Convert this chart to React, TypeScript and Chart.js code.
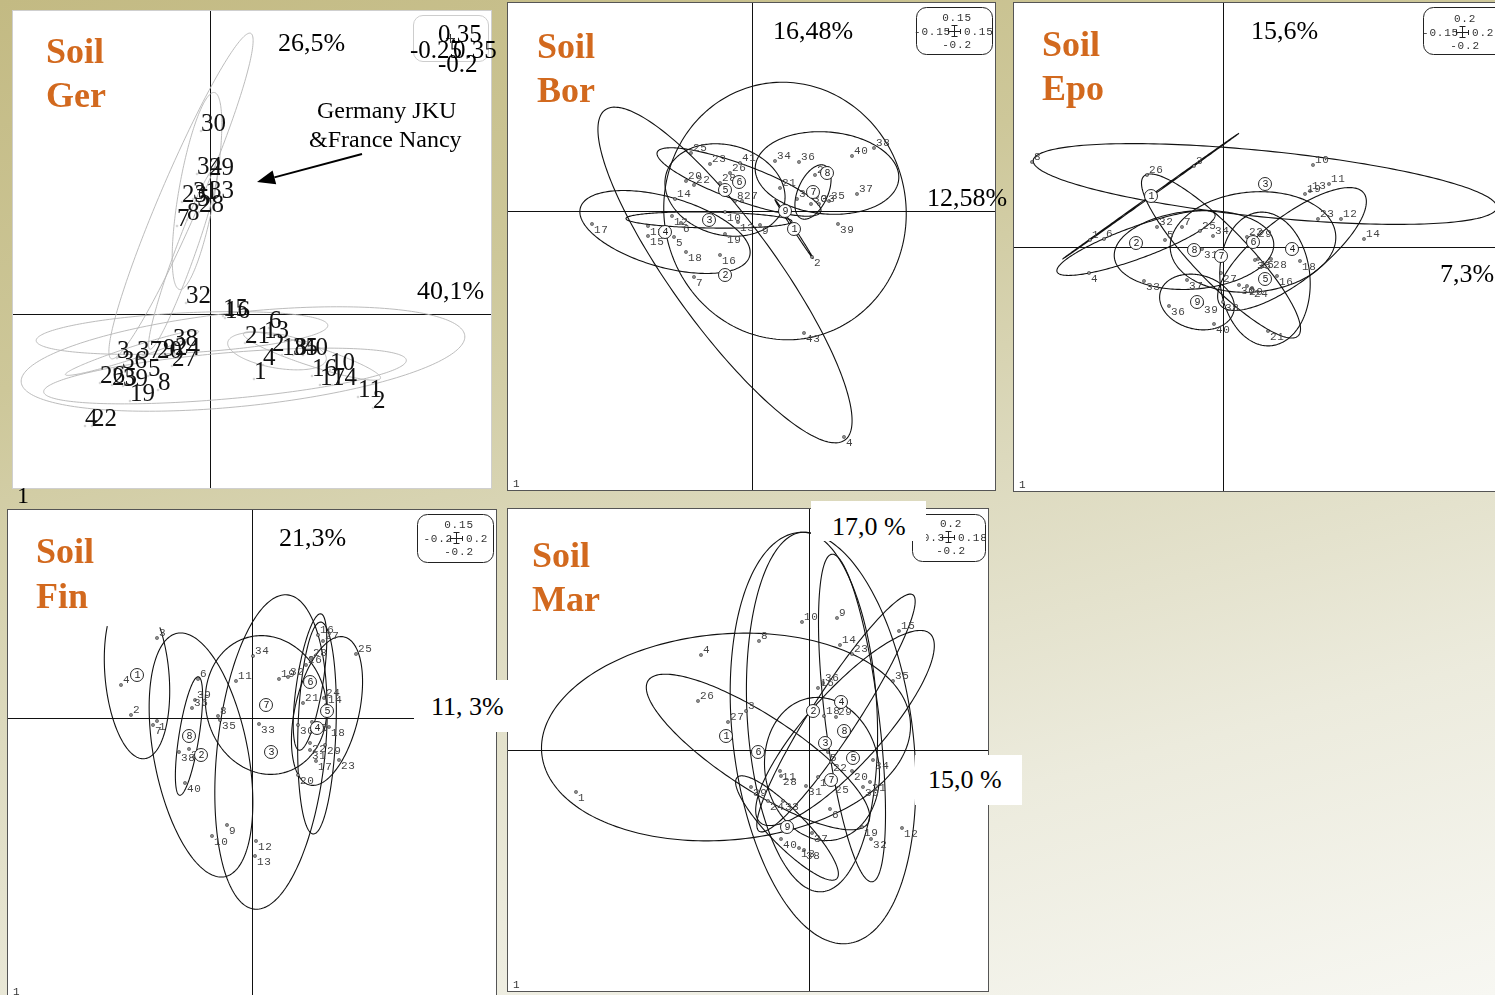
import { useEffect, useRef } from "react";
import { Chart, registerables } from "chart.js";

Chart.register(...registerables);

const SERIF = '"Liberation Serif", "Times New Roman", Times, serif';
const MONO = '"Liberation Mono", "Courier New", monospace';
const ORANGE = "#d2691e";
const UNIT = 100; // pixels per ordination unit

/* ---------------- Soil Ger (Germany JKU & France Nancy) ---------------- */
const gerPointLabels = ["30", "34", "29", "23", "31", "33", "5", "28", "7", "8", "32", "15", "16", "6", "21", "13", "2", "18", "35", "40", "4", "1", "10", "16", "17", "14", "11", "2", "3", "36", "37", "20", "9", "38", "24", "27", "5", "26", "25", "39", "19", "8", "22", "4"];
const gerPointX = [-0.09, -0.13, -0.01, -0.28, -0.17, -0.01, -0.13, -0.11, -0.33, -0.23, -0.24, 0.13, 0.15, 0.59, 0.35, 0.54, 0.62, 0.72, 0.83, 0.93, 0.53, 0.44, 1.2, 1.02, 1.1, 1.22, 1.48, 1.63, -0.93, -0.88, -0.73, -0.53, -0.47, -0.37, -0.35, -0.38, -0.62, -1.1, -0.98, -0.87, -0.8, -0.52, -1.18, -1.25];
const gerPointY = [1.83, 1.4, 1.39, 1.12, 1.15, 1.16, 1.08, 1.02, 0.88, 0.94, 0.11, -0.02, -0.04, -0.14, -0.29, -0.24, -0.37, -0.41, -0.41, -0.41, -0.51, -0.65, -0.56, -0.62, -0.71, -0.71, -0.83, -0.94, -0.44, -0.54, -0.44, -0.44, -0.42, -0.32, -0.41, -0.52, -0.62, -0.69, -0.71, -0.72, -0.87, -0.76, -1.12, -1.12];
const gerEllX = [-0.29, -0.13, -0.27, 0.33, 0.15, -0.28, -0.78, 1.02, 0.67];
const gerEllY = [1.18, 1.23, 0.56, -0.45, -0.62, -0.19, -0.39, -0.42, -0.37];
const gerEllA = [1.77, 1.0, 0.97, 2.23, 1.82, 1.46, 0.7, 0.72, 0.5];
const gerEllB = [0.2, 0.18, 0.1, 0.47, 0.23, 0.2, 0.06, 0.1, 0.17];
const gerEllAngle = [66.8, 80, 70, 6, 5, 3, 18, -18, -10];
const gerArrow = [1.52, 1.6, 0.47, 1.32];
const gerAxisPct = ["26,5%", "40,1%"];
const gerScaleTicks = ["0.35", "-0.25", "0.35", "-0.2"];
const gerNote = ["Germany JKU", "&France Nancy"];

/* ---------------- Soil Bor ---------------- */
const borPointLabels = ["25", "23", "41", "26", "20", "22", "28", "14", "8", "27", "21", "31", "35", "30", "33", "29", "34", "36", "40", "38", "37", "39", "43", "4", "17", "15", "11", "12", "6", "5", "18", "16", "7", "10", "19", "13", "9", "2"];
const borPointX = [-0.61, -0.42, -0.12, -0.22, -0.66, -0.58, -0.32, -0.77, -0.17, -0.1, 0.28, 0.45, 0.77, 0.59, 0.67, 0.63, 0.23, 0.47, 1.0, 1.22, 1.05, 0.86, 0.52, 0.92, -1.6, -1.04, -1.04, -0.8, -0.71, -0.78, -0.66, -0.32, -0.58, -0.27, -0.27, -0.14, 0.08, 0.6];
const borPointY = [0.58, 0.47, 0.48, 0.38, 0.3, 0.26, 0.28, 0.12, 0.1, 0.1, 0.23, 0.12, 0.1, 0.07, 0.07, 0.36, 0.5, 0.49, 0.55, 0.63, 0.17, -0.13, -1.22, -2.26, -0.13, -0.25, -0.15, -0.05, -0.12, -0.26, -0.41, -0.44, -0.66, -0.01, -0.23, -0.11, -0.14, -0.46];
const borGroupLabels = ["1", "2", "3", "4", "5", "6", "7", "8", "9"];
const borGroupX = [0.42, -0.27, -0.43, -0.87, -0.27, -0.13, 0.61, 0.75, 0.33];
const borGroupY = [-0.18, -0.64, -0.09, -0.21, 0.21, 0.29, 0.19, 0.38, 0.0];
const borEllA = [0.35, 2.04, 0.83, 0.88, 0.61, 0.87, 0.29, 0.72, 1.21];
const borEllB = [0.01, 0.52, 0.08, 0.35, 0.45, 0.18, 0.15, 0.41, 1.29];
const borEllAngle = [-57, -54, -1, -16, -15, -20, 66, -5, 10];
const borAxisPct = ["16,48%", "12,58%"];
const borScaleTicks = ["0.15", "-0.15", "0.15", "-0.2"];

/* ---------------- Soil Epo ---------------- */
const epoPointLabels = ["8", "3", "26", "10", "11", "19", "13", "23", "12", "14", "32", "7", "25", "34", "5", "1", "6", "22", "29", "4", "33", "37", "36", "39", "40", "31", "27", "30", "20", "24", "35", "15", "28", "18", "16", "38", "21"];
const epoPointX = [-1.91, -0.29, -0.76, 0.9, 1.06, 0.82, 0.87, 0.95, 1.18, 1.41, -0.66, -0.41, -0.23, -0.1, -0.58, -1.33, -1.19, 0.24, 0.33, -1.34, -0.79, -0.36, -0.54, -0.21, -0.09, -0.21, -0.02, 0.16, 0.24, 0.29, 0.32, 0.35, 0.48, 0.77, 0.54, 0.0, 0.45];
const epoPointY = [0.85, 0.81, 0.72, 0.82, 0.63, 0.53, 0.56, 0.28, 0.28, 0.08, 0.2, 0.2, 0.16, 0.11, 0.07, 0.07, 0.08, 0.1, 0.08, -0.26, -0.34, -0.33, -0.59, -0.57, -0.77, -0.02, -0.26, -0.38, -0.39, -0.41, -0.13, -0.12, -0.12, -0.14, -0.29, -0.55, -0.84];
const epoGroupLabels = ["1", "2", "3", "4", "5", "6", "7", "8", "9"];
const epoGroupX = [-0.72, -0.87, 0.42, 0.69, 0.42, 0.3, -0.02, -0.29, -0.26];
const epoGroupY = [0.51, 0.04, 0.63, -0.02, -0.32, 0.05, -0.09, -0.03, -0.55];
const epoEllA = [1.08, 0.84, 2.33, 0.91, 0.67, 0.83, 1.11, 0.8, 0.38];
const epoEllB = [0.006, 0.16, 0.33, 0.32, 0.45, 0.5, 0.27, 0.39, 0.27];
const epoEllAngle = [35.5, 20, -5.8, 38, 95, 5, -46, 5, -15];
const epoAxisPct = ["15,6%", "7,3%"];
const epoScaleTicks = ["0.2", "-0.15", "0.2", "-0.2"];

/* ---------------- Soil Fin ---------------- */
const finPointLabels = ["3", "4", "2", "1", "7", "6", "39", "36", "8", "35", "38", "37", "40", "9", "10", "12", "13", "34", "11", "33", "19", "32", "16", "27", "28", "26", "21", "24", "14", "30", "18", "22", "31", "29", "17", "23", "20", "25", "15"];
const finPointX = [-0.95, -1.31, -1.21, -0.95, -0.99, -0.54, -0.57, -0.6, -0.34, -0.32, -0.73, -0.63, -0.67, -0.25, -0.4, 0.04, 0.03, 0.01, -0.16, 0.07, 0.27, 0.36, 0.66, 0.71, 0.59, 0.54, 0.51, 0.72, 0.74, 0.46, 0.77, 0.58, 0.58, 0.73, 0.64, 0.87, 0.46, 1.04, 0.6];
const finPointY = [0.8, 0.33, 0.03, -0.03, -0.07, 0.39, 0.18, 0.1, 0.02, -0.02, -0.34, -0.31, -0.65, -1.07, -1.18, -1.23, -1.38, 0.62, 0.37, -0.06, 0.39, 0.41, 0.83, 0.77, 0.6, 0.53, 0.15, 0.2, 0.13, -0.07, -0.09, -0.25, -0.32, -0.27, -0.43, -0.42, -0.57, 0.64, -0.04];
const finGroupLabels = ["1", "2", "3", "4", "5", "6", "7", "8"];
const finGroupX = [-1.15, -0.51, 0.19, 0.65, 0.75, 0.58, 0.14, -0.63];
const finGroupY = [0.43, -0.37, -0.34, -0.1, 0.07, 0.36, 0.13, -0.18];
const finEllA = [0.84, 1.24, 1.58, 1.06, 0.76, 0.69, 0.7, 0.6];
const finEllB = [0.32, 0.47, 0.54, 0.19, 0.32, 0.13, 0.6, 0.1];
const finEllAngle = [95, 101, 84, 88, 77, 81, 105, 81];
const finEllClipTop: (number | null)[] = [0.92, null, null, null, null, null, null, null];
const finAxisPct = ["21,3%", "11, 3%"];
const finScaleTicks = ["0.15", "-0.2", "0.2", "-0.2"];

/* ---------------- Soil Mar ---------------- */
const marPointLabels = ["10", "9", "8", "4", "15", "14", "23", "35", "36", "16", "26", "3", "27", "18", "29", "5", "22", "34", "11", "28", "20", "17", "25", "31", "30", "21", "1", "39", "24", "33", "6", "19", "12", "32", "37", "40", "13", "38"];
const marPointX = [-0.07, 0.28, -0.5, -1.08, 0.9, 0.31, 0.43, 0.84, 0.14, 0.09, -1.11, -0.63, -0.81, 0.15, 0.27, 0.19, 0.22, 0.64, -0.29, -0.28, 0.43, 0.09, 0.24, -0.03, 0.54, 0.61, -2.33, -0.58, -0.41, -0.26, 0.21, 0.53, 0.93, 0.62, 0.03, -0.28, -0.1, -0.05];
const marPointY = [1.28, 1.32, 1.09, 0.95, 1.19, 1.05, 0.96, 0.69, 0.67, 0.62, 0.49, 0.39, 0.28, 0.34, 0.33, -0.02, -0.12, -0.1, -0.21, -0.26, -0.21, -0.27, -0.34, -0.36, -0.37, -0.32, -0.42, -0.37, -0.51, -0.51, -0.59, -0.77, -0.78, -0.89, -0.83, -0.89, -0.98, -1.0];
const marGroupLabels = ["1", "2", "3", "4", "5", "6", "7", "8", "9"];
const marGroupX = [-0.83, 0.04, 0.16, 0.32, 0.44, -0.51, 0.22, 0.35, -0.22];
const marGroupY = [0.14, 0.39, 0.07, 0.48, -0.08, -0.02, -0.3, 0.19, -0.77];
const marEllX = [-0.83, -0.51, 0.14, 0.03, 0.43, 0.27, 0.36, 0.13, -0.22];
const marEllY = [0.13, -0.02, 0.12, 0.38, 0.32, 0.37, 0.22, -0.19, -0.78];
const marEllA = [1.85, 1.31, 2.07, 1.8, 1.65, 1.41, 1.27, 0.72, 0.71];
const marEllB = [1.03, 0.37, 0.9, 0.65, 0.27, 0.23, 0.37, 0.57, 0.18];
const marEllAngle = [5, -33, 97, 93, 97, 57, 48, 100, -45.5];
const marAxisPct = ["17,0 %", "15,0 %"];
const marScaleTicks = ["0.2", "-0.3", "0.18", "-0.2"];

/* ---------------- panel definitions ---------------- */
type Box = { left: number; top: number; width: number; height: number; ox: number; oy: number };
type Panel = {
  id: string;
  box: Box;
  style: "serif" | "mono";
  border: string;
  labels: string[];
  xs: number[];
  ys: number[];
  groupLabels?: string[];
  groupX?: number[];
  groupY?: number[];
  ellX: number[];
  ellY: number[];
  ellA: number[];
  ellB: number[];
  ellAngle: number[];
  ellClipTop?: (number | null)[];
  ticks?: string[];
  tickBox?: number[];
  tickCross?: number[];
  arrow?: number[];
};

const panels: Panel[] = [
  {
    id: "ger",
    box: { left: 12, top: 10, width: 480, height: 479, ox: 198, oy: 304 },
    style: "serif",
    border: "#cfcfcf",
    labels: gerPointLabels,
    xs: gerPointX,
    ys: gerPointY,
    ellX: gerEllX,
    ellY: gerEllY,
    ellA: gerEllA,
    ellB: gerEllB,
    ellAngle: gerEllAngle,
    arrow: gerArrow,
  },
  {
    id: "bor",
    box: { left: 507, top: 2, width: 489, height: 489, ox: 245, oy: 209 },
    style: "mono",
    border: "#555",
    labels: borPointLabels,
    xs: borPointX,
    ys: borPointY,
    groupLabels: borGroupLabels,
    groupX: borGroupX,
    groupY: borGroupY,
    ellX: borGroupX,
    ellY: borGroupY,
    ellA: borEllA,
    ellB: borEllB,
    ellAngle: borEllAngle,
    ticks: borScaleTicks,
    tickBox: [409, 5, 76, 47],
    tickCross: [447, 29],
  },
  {
    id: "epo",
    box: { left: 1013, top: 2, width: 487, height: 490, ox: 210, oy: 245 },
    style: "mono",
    border: "#555",
    labels: epoPointLabels,
    xs: epoPointX,
    ys: epoPointY,
    groupLabels: epoGroupLabels,
    groupX: epoGroupX,
    groupY: epoGroupY,
    ellX: epoGroupX,
    ellY: epoGroupY,
    ellA: epoEllA,
    ellB: epoEllB,
    ellAngle: epoEllAngle,
    ticks: epoScaleTicks,
    tickBox: [410, 5, 82, 47],
    tickCross: [449, 30],
  },
  {
    id: "fin",
    box: { left: 7, top: 509, width: 490, height: 490, ox: 245, oy: 209 },
    style: "mono",
    border: "#555",
    labels: finPointLabels,
    xs: finPointX,
    ys: finPointY,
    groupLabels: finGroupLabels,
    groupX: finGroupX,
    groupY: finGroupY,
    ellX: finGroupX,
    ellY: finGroupY,
    ellA: finEllA,
    ellB: finEllB,
    ellAngle: finEllAngle,
    ellClipTop: finEllClipTop,
    ticks: finScaleTicks,
    tickBox: [410, 5, 76, 48],
    tickCross: [449, 29],
  },
  {
    id: "mar",
    box: { left: 507, top: 508, width: 482, height: 484, ox: 302, oy: 242 },
    style: "mono",
    border: "#555",
    labels: marPointLabels,
    xs: marPointX,
    ys: marPointY,
    groupLabels: marGroupLabels,
    groupX: marGroupX,
    groupY: marGroupY,
    ellX: marEllX,
    ellY: marEllY,
    ellA: marEllA,
    ellB: marEllB,
    ellAngle: marEllAngle,
    ticks: marScaleTicks,
    tickBox: [405, 6, 73, 47],
    tickCross: [441, 29],
  },
];

/* ---------------- drawing helpers ---------------- */
function drawEllipse(ctx: CanvasRenderingContext2D, xs: any, ys: any, cx: number, cy: number, a: number, b: number, angDeg: number, clipTop: number | null) {
  const phi = (angDeg * Math.PI) / 180;
  const c = Math.cos(phi);
  const s = Math.sin(phi);
  const n = 220;
  ctx.beginPath();
  let pen = false;
  for (let i = 0; i <= n; i++) {
    const t = (i / n) * Math.PI * 2;
    const u = a * Math.cos(t);
    const v = b * Math.sin(t);
    const dx = cx + u * c - v * s;
    const dy = cy + u * s + v * c;
    if (clipTop !== null && dy > clipTop) {
      pen = false;
      continue;
    }
    const px = xs.getPixelForValue(dx);
    const py = ys.getPixelForValue(dy);
    if (!pen) {
      ctx.moveTo(px, py);
      pen = true;
    } else ctx.lineTo(px, py);
  }
  ctx.stroke();
}

function roundedRect(ctx: CanvasRenderingContext2D, x: number, y: number, w: number, h: number, r: number) {
  ctx.beginPath();
  ctx.moveTo(x + r, y);
  ctx.lineTo(x + w - r, y);
  ctx.arcTo(x + w, y, x + w, y + r, r);
  ctx.lineTo(x + w, y + h - r);
  ctx.arcTo(x + w, y + h, x + w - r, y + h, r);
  ctx.lineTo(x + r, y + h);
  ctx.arcTo(x, y + h, x, y + h - r, r);
  ctx.lineTo(x, y + r);
  ctx.arcTo(x, y, x + r, y, r);
  ctx.closePath();
}

function ordinationPlugin(p: Panel) {
  return {
    id: "ordination-" + p.id,
    beforeDraw(chart: any) {
      const ctx = chart.ctx as CanvasRenderingContext2D;
      ctx.save();
      ctx.fillStyle = "#ffffff";
      ctx.fillRect(0, 0, chart.width, chart.height);
      ctx.restore();
    },
    beforeDatasetsDraw(chart: any) {
      const ctx = chart.ctx as CanvasRenderingContext2D;
      const xs = chart.scales.x;
      const ys = chart.scales.y;
      const x0 = Math.round(xs.getPixelForValue(0)) + 0.5;
      const y0 = Math.round(ys.getPixelForValue(0)) + 0.5;
      ctx.save();
      ctx.strokeStyle = "#111";
      ctx.lineWidth = 1;
      ctx.beginPath();
      ctx.moveTo(x0, 0);
      ctx.lineTo(x0, chart.height);
      ctx.moveTo(0, y0);
      ctx.lineTo(chart.width, y0);
      ctx.stroke();

      ctx.strokeStyle = p.style === "serif" ? "#b4b4b4" : "#111";
      ctx.lineWidth = p.style === "serif" ? 0.9 : 1.1;
      p.ellX.forEach((cx, i) => {
        const clip = p.ellClipTop ? p.ellClipTop[i] : null;
        drawEllipse(ctx, xs, ys, cx, p.ellY[i], p.ellA[i], p.ellB[i], p.ellAngle[i], clip);
      });
      ctx.restore();
    },
    afterDatasetsDraw(chart: any) {
      const ctx = chart.ctx as CanvasRenderingContext2D;
      const xs = chart.scales.x;
      const ys = chart.scales.y;
      const W = chart.width;
      const H = chart.height;
      ctx.save();
      ctx.textAlign = "left";
      ctx.textBaseline = "alphabetic";

      if (p.style === "serif") {
        ctx.font = `25px ${SERIF}`;
        ctx.fillStyle = "#111";
        p.labels.forEach((lab, i) => {
          ctx.fillText(lab, xs.getPixelForValue(p.xs[i]), ys.getPixelForValue(p.ys[i]));
        });
        if (p.arrow) {
          const [ax0, ay0, ax1, ay1] = p.arrow;
          const x0 = xs.getPixelForValue(ax0);
          const y0 = ys.getPixelForValue(ay0);
          const x1 = xs.getPixelForValue(ax1);
          const y1 = ys.getPixelForValue(ay1);
          const ang = Math.atan2(y1 - y0, x1 - x0);
          const hl = 18;
          const hw = 7;
          const bx = x1 - hl * Math.cos(ang);
          const by = y1 - hl * Math.sin(ang);
          ctx.strokeStyle = "#000";
          ctx.fillStyle = "#000";
          ctx.lineWidth = 2;
          ctx.beginPath();
          ctx.moveTo(x0, y0);
          ctx.lineTo(bx, by);
          ctx.stroke();
          ctx.beginPath();
          ctx.moveTo(x1, y1);
          ctx.lineTo(bx + hw * Math.sin(ang), by - hw * Math.cos(ang));
          ctx.lineTo(bx - hw * Math.sin(ang), by + hw * Math.cos(ang));
          ctx.closePath();
          ctx.fill();
        }
      } else {
        ctx.font = `11px ${MONO}`;
        (ctx as any).letterSpacing = "0.6px";
        ctx.fillStyle = "#444";
        p.labels.forEach((lab, i) => {
          const px = xs.getPixelForValue(p.xs[i]);
          const py = ys.getPixelForValue(p.ys[i]);
          ctx.fillText(lab, px + 2, p.ys[i] >= 0 ? py - 2 : py + 9);
        });

        // group means
        (ctx as any).letterSpacing = "0px";
        ctx.font = `10px ${MONO}`;
        ctx.textAlign = "center";
        ctx.textBaseline = "middle";
        (p.groupLabels || []).forEach((g, i) => {
          const px = xs.getPixelForValue(p.groupX![i]);
          const py = ys.getPixelForValue(p.groupY![i]);
          ctx.beginPath();
          ctx.arc(px, py, 6.5, 0, Math.PI * 2);
          ctx.fillStyle = "#fff";
          ctx.fill();
          ctx.strokeStyle = "#111";
          ctx.lineWidth = 0.9;
          ctx.stroke();
          ctx.fillStyle = "#222";
          ctx.fillText(g, px + 0.5, py + 0.5);
        });

        // scale key
        if (p.ticks && p.tickBox && p.tickCross) {
          const [bx, by, bw, bh] = p.tickBox;
          const [cx, cy] = p.tickCross;
          ctx.strokeStyle = "#222";
          ctx.lineWidth = 1;
          roundedRect(ctx, bx + 0.5, by + 0.5, bw, bh, 10);
          ctx.stroke();
          ctx.beginPath();
          ctx.moveTo(cx + 0.5, cy - 6);
          ctx.lineTo(cx + 0.5, cy + 6);
          ctx.moveTo(cx - 2.5, cy - 5.5);
          ctx.lineTo(cx + 3.5, cy - 5.5);
          ctx.moveTo(cx - 2.5, cy + 5.5);
          ctx.lineTo(cx + 3.5, cy + 5.5);
          ctx.moveTo(cx - 6, cy + 0.5);
          ctx.lineTo(cx + 7, cy + 0.5);
          ctx.moveTo(cx - 5.5, cy - 2);
          ctx.lineTo(cx - 5.5, cy + 3);
          ctx.moveTo(cx + 6.5, cy - 2);
          ctx.lineTo(cx + 6.5, cy + 3);
          ctx.stroke();
          ctx.font = `11px ${MONO}`;
          (ctx as any).letterSpacing = "0.8px";
          ctx.fillStyle = "#333";
          ctx.textBaseline = "middle";
          ctx.textAlign = "center";
          ctx.fillText(p.ticks[0], cx + 3, cy - 13);
          ctx.fillText(p.ticks[3], cx + 3, cy + 14);
          ctx.textAlign = "right";
          ctx.fillText(p.ticks[1], cx - 3, cy + 1);
          ctx.textAlign = "left";
          ctx.fillText(p.ticks[2], cx + 10, cy + 1);
        }

        // corner index
        (ctx as any).letterSpacing = "0px";
        ctx.font = `11px ${MONO}`;
        ctx.textAlign = "left";
        ctx.textBaseline = "alphabetic";
        ctx.fillStyle = "#333";
        ctx.fillText("1", 6, Math.min(H, 490) - 4);
      }

      ctx.strokeStyle = p.border;
      ctx.lineWidth = 1;
      ctx.strokeRect(0.5, 0.5, W - 1, H - 1);
      ctx.restore();
    },
  };
}

function OrdinationChart({ panel }: { panel: Panel }) {
  const ref = useRef<HTMLCanvasElement>(null);
  useEffect(() => {
    const canvas = ref.current;
    if (!canvas) return;
    const { width, height, ox, oy } = panel.box;
    const serif = panel.style === "serif";
    const chart = new Chart(canvas, {
      type: "scatter",
      data: {
        datasets: [
          {
            data: panel.xs.map((x, i) => ({ x, y: panel.ys[i] })),
            pointStyle: "rect",
            pointRadius: serif ? 1 : 1.6,
            pointBorderWidth: 0.8,
            pointBackgroundColor: "#fff",
            pointBorderColor: serif ? "#c4c4c4" : "#111",
          },
        ],
      },
      options: {
        responsive: false,
        animation: false,
        events: [],
        layout: { padding: 0, autoPadding: false },
        plugins: { legend: { display: false }, tooltip: { enabled: false }, title: { display: false } },
        scales: {
          x: { type: "linear", display: false, min: -ox / UNIT, max: (width - ox) / UNIT },
          y: { type: "linear", display: false, min: -(height - oy) / UNIT, max: oy / UNIT },
        },
      } as any,
      plugins: [ordinationPlugin(panel)],
    });
    return () => chart.destroy();
  }, [panel]);
  const b = panel.box;
  return (
    <canvas
      ref={ref}
      width={b.width}
      height={b.height}
      style={{ position: "absolute", left: b.left, top: b.top, width: b.width, height: b.height }}
    />
  );
}

/* text placed by its baseline (Liberation Serif: baseline at 0.8375em with line-height 1) */
function Txt({ x, base, size, text, bold, color, family }: { x: number; base: number; size: number; text: string; bold?: boolean; color?: string; family?: string }) {
  const fam = family || SERIF;
  const k = fam === MONO ? 0.7665 : 0.8375;
  return (
    <div
      style={{
        position: "absolute",
        left: x,
        top: base - k * size,
        fontFamily: fam,
        fontSize: size,
        fontWeight: bold ? 700 : 400,
        lineHeight: 1,
        color: color || "#000",
        whiteSpace: "pre",
      }}
    >
      {text}
    </div>
  );
}

function WhiteBox({ x, y, w, h }: { x: number; y: number; w: number; h: number }) {
  return <div style={{ position: "absolute", left: x, top: y, width: w, height: h, background: "#fff" }} />;
}

export default function App() {
  return (
    <div
      style={{
        position: "absolute",
        left: 0,
        top: 0,
        width: 1495,
        height: 995,
        overflow: "hidden",
        background: "linear-gradient(165deg, #c3ba83 0%, #cdc799 28%, #dcd9bd 52%, #ecebdd 76%, #f7f7f2 100%)",
      }}
    >
      {panels.map((p) => (
        <OrdinationChart key={p.id} panel={p} />
      ))}

      {/* Soil Ger */}
      <Txt x={46} base={63} size={36} bold color={ORANGE} text="Soil" />
      <Txt x={46} base={107} size={36} bold color={ORANGE} text="Ger" />
      <Txt x={278} base={52} size={26} text={gerAxisPct[0]} />
      <Txt x={417} base={300} size={26} text={gerAxisPct[1]} />
      <Txt x={317} base={118} size={24} text={gerNote[0]} />
      <Txt x={309} base={147} size={24} text={gerNote[1]} />
      <div style={{ position: "absolute", left: 413, top: 15, width: 74, height: 45, border: "1px solid #cdcdcd", borderRadius: 10 }} />
      <div style={{ position: "absolute", left: 446, top: 38, width: 9, height: 1, background: "#333" }} />
      <div style={{ position: "absolute", left: 450, top: 34, width: 1, height: 9, background: "#333" }} />
      <Txt x={438} base={42} size={25} text={gerScaleTicks[0]} />
      <Txt x={410} base={58} size={25} text={gerScaleTicks[1]} />
      <Txt x={453} base={58} size={25} text={gerScaleTicks[2]} />
      <Txt x={438} base={72} size={25} text={gerScaleTicks[3]} />
      <Txt x={17} base={503} size={24} text="1" />

      {/* Soil Bor */}
      <Txt x={537} base={58} size={36} bold color={ORANGE} text="Soil" />
      <Txt x={537} base={102} size={36} bold color={ORANGE} text="Bor" />
      <Txt x={773} base={40} size={26} text={borAxisPct[0]} />
      <Txt x={927} base={207} size={26} text={borAxisPct[1]} />

      {/* Soil Epo */}
      <Txt x={1042} base={56} size={36} bold color={ORANGE} text="Soil" />
      <Txt x={1042} base={100} size={36} bold color={ORANGE} text="Epo" />
      <Txt x={1251} base={40} size={26} text={epoAxisPct[0]} />
      <Txt x={1440} base={283} size={26} text={epoAxisPct[1]} />

      {/* Soil Fin */}
      <Txt x={36} base={563} size={36} bold color={ORANGE} text="Soil" />
      <Txt x={36} base={608} size={36} bold color={ORANGE} text="Fin" />
      <Txt x={279} base={547} size={26} text={finAxisPct[0]} />
      <WhiteBox x={414} y={680} w={96} h={52} />
      <Txt x={431} base={716} size={26} text={finAxisPct[1]} />

      {/* Soil Mar */}
      <Txt x={532} base={567} size={36} bold color={ORANGE} text="Soil" />
      <Txt x={532} base={611} size={36} bold color={ORANGE} text="Mar" />
      <WhiteBox x={811} y={501} w={115} h={40} />
      <Txt x={832} base={536} size={26} text={marAxisPct[0]} />
      <WhiteBox x={915} y={755} w={107} h={50} />
      <Txt x={928} base={789} size={26} text={marAxisPct[1]} />
    </div>
  );
}
